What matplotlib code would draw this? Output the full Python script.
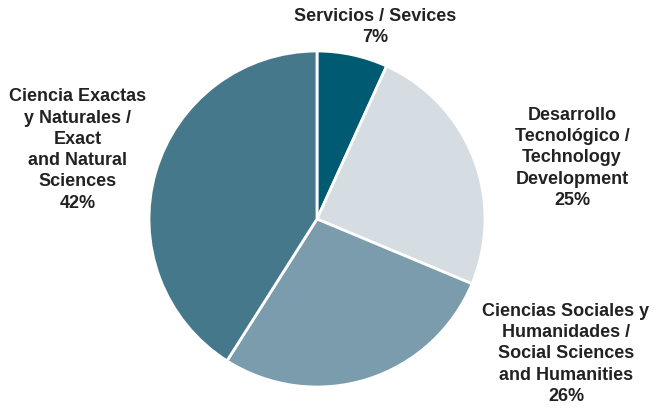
import matplotlib
matplotlib.use("Agg")
import matplotlib.pyplot as plt

categories = ["Servicios / Sevices",
              "Desarrollo\nTecnológico /\nTechnology\nDevelopment",
              "Ciencias Sociales y\nHumanidades /\nSocial Sciences\nand Humanities",
              "Ciencia Exactas\ny Naturales /\nExact\nand Natural\nSciences"]
# slice sizes as drawn in the reference picture
values = [6.8, 24.5, 27.7, 41.0]
# percentages as printed in the labels
pct_labels = ["7%", "25%", "26%", "42%"]
colors = ["#005b72", "#d5dde3", "#7a9cac", "#46788c"]

W, H = 658, 409
fig = plt.figure(figsize=(W / 100, H / 100), dpi=100)
ax = fig.add_axes([0, 0, 1, 1])

ax.pie(values, colors=colors, startangle=90, counterclock=False,
       center=(317, H - 219), radius=168,
       wedgeprops=dict(edgecolor="white", linewidth=2))
ax.set_xlim(0, W)
ax.set_ylim(0, H)
ax.set_aspect("equal")
ax.axis("off")

label_pos = [(375, 27), (572, 158), (566, 354), (78, 150)]
for cat, p, (x, y) in zip(categories, pct_labels, label_pos):
    ax.text(x, H - y, f"{cat}\n{p}", ha="center", va="center",
            fontsize=13, fontweight="bold", family="Liberation Sans",
            color="#222222", linespacing=1.33)

fig.savefig("out.png", dpi=100)
